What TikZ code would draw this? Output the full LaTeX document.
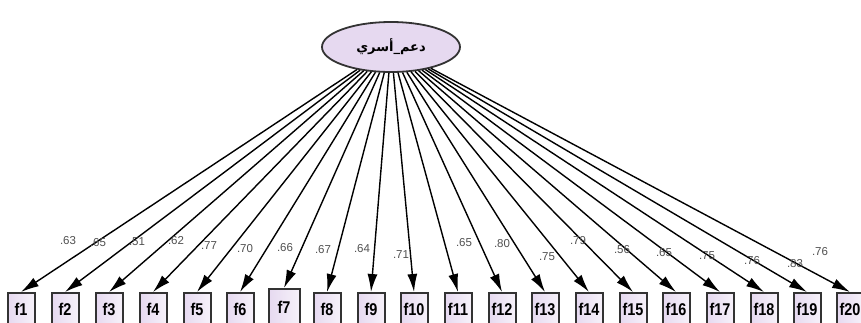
\documentclass[tikz,border=0pt]{standalone}
\usepackage{fontspec}
\setmainfont{Liberation Sans}
\newfontfamily\arabicfont[Script=Arabic]{DejaVu Sans}
\TeXXeTstate=1
\usetikzlibrary{shapes.geometric,arrows.meta}
\definecolor{lav}{HTML}{E6D9F0}
\definecolor{bord}{HTML}{333333}
\definecolor{numc}{HTML}{505050}
\tikzset{
  latent/.style={ellipse,draw=bord,line width=1.8pt,fill=lav,minimum width=138pt,minimum height=50pt,inner sep=0pt},
  obsbox/.style={rectangle,draw=bord,line width=2pt,left color=lav,right color=lav!35!white,minimum width=27pt,minimum height=32pt,inner sep=0pt,anchor=north,font=\bfseries\fontsize{17}{17}\selectfont,text depth=0pt},
  load/.style={line width=1.4pt,-{Latex[length=18pt,width=10pt]},black},
  coef/.style={font=\fontsize{11.5}{11.5}\selectfont,text=numc,inner sep=0pt}
}
\begin{document}
\begin{tikzpicture}[x=1pt,y=-1pt]
\useasboundingbox (0,0) rectangle (861,322);
\node[latent] (L) at (391,47) {\arabicfont\bfseries\fontsize{13}{13}\selectfont\beginR دعم\_أسري\endR};
\foreach \i/\x in {1/21,2/65,3/109,4/153,5/197,6/240,8/327,9/371,10/414,11/458,12/502,13/545,14/589,15/633,16/676,17/720,18/764,19/807,20/850}{
  \node[obsbox] (f\i) at (\x,292) {\scalebox{0.85}[1]{f\i}\vphantom{fy}};
}
\node[obsbox,minimum width=31pt,minimum height=36pt] (f7) at (284,288) {\scalebox{0.85}[1]{f7}\vphantom{fy}};
\foreach \i in {1,...,20}{
  \draw[load] (L) -- (f\i.north);
}
\node[coef] (c1) at (68,241) {.63};
\node[coef] (c2) at (98,243) {.65};
\node[coef] (c3) at (137,242) {.51};
\node[coef] (c4) at (176,241) {.62};
\node[coef] (c5) at (209,246) {.77};
\node[coef] (c6) at (245,249) {.70};
\node[coef] (c7) at (285,248) {.66};
\node[coef] (c8) at (323,250) {.67};
\node[coef] (c9) at (362,249) {.64};
\node[coef] (c10) at (401,255) {.71};
\node[coef] (c11) at (464,243) {.65};
\node[coef] (c12) at (502,244) {.80};
\node[coef] (c13) at (547,257) {.75};
\node[coef] (c14) at (578,241) {.79};
\node[coef] (c15) at (622,250) {.56};
\node[coef] (c16) at (664,253) {.65};
\node[coef] (c17) at (707,256) {.75};
\node[coef] (c18) at (752,261) {.76};
\node[coef] (c19) at (795,264) {.83};
\node[coef] (c20) at (820,252) {.76};
\end{tikzpicture}
\end{document}
